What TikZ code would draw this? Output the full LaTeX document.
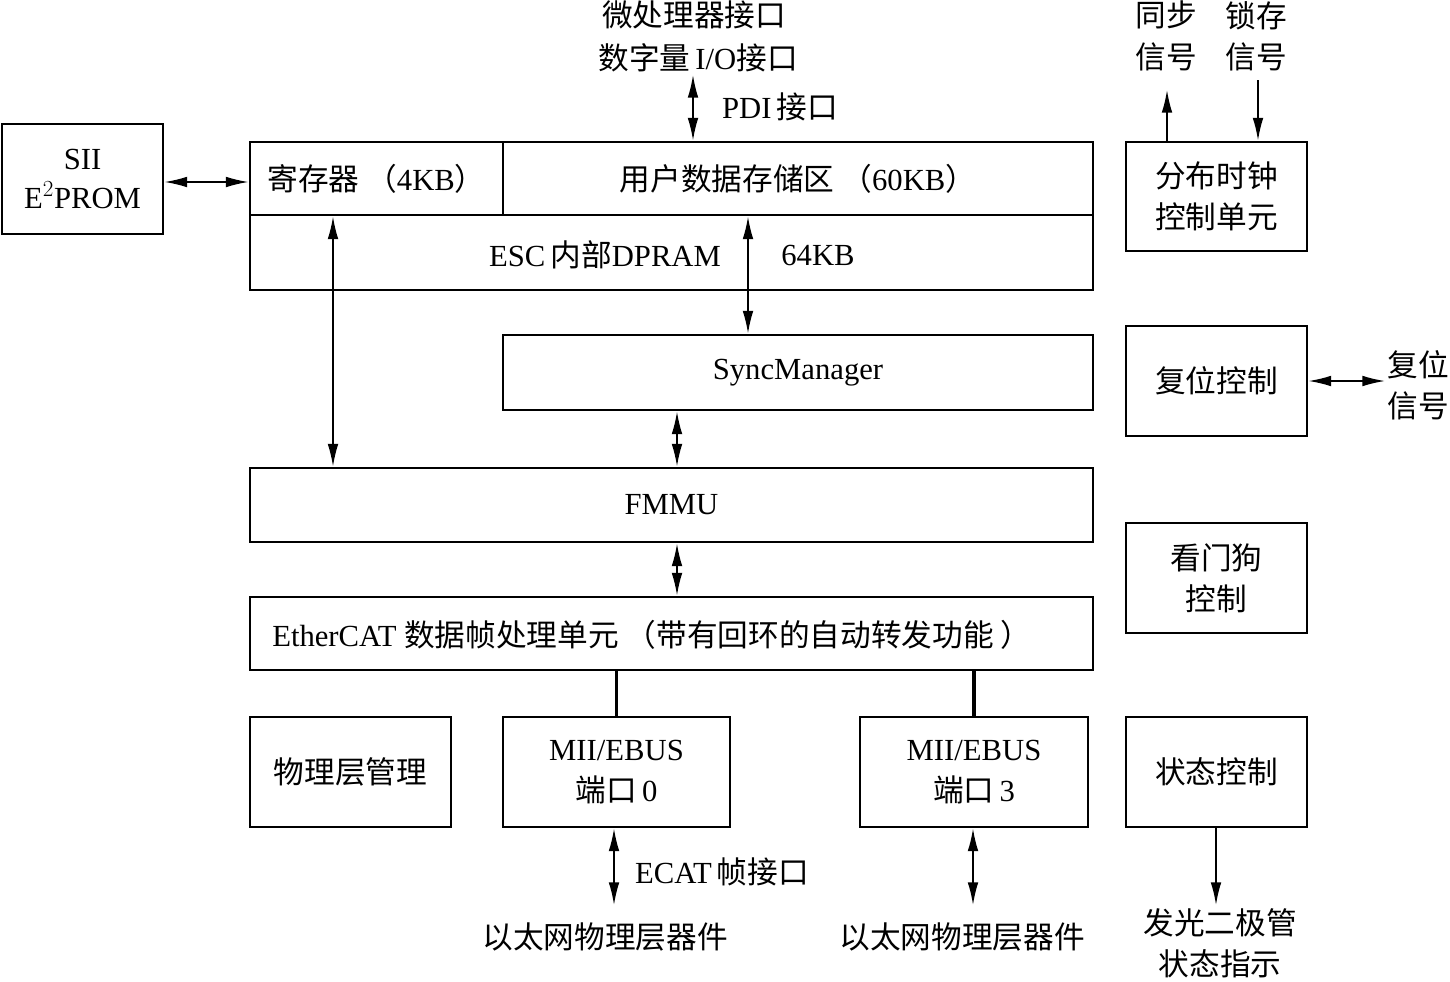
\documentclass[tikz,border=0pt]{standalone}
\usepackage{fontspec}
\setmainfont{Liberation Serif}
\newfontfamily\cjk{Noto Sans CJK SC}
\usetikzlibrary{arrows.meta}
\newcommand\zh[1]{{\cjk #1}}
\tikzset{
  box/.style={draw,line width=2.2pt,inner sep=0pt,align=center,rectangle},
  txt/.style={inner sep=0pt,align=center},
  tip/.tip={Latex[length=17pt,width=8pt]},
  dar/.style={line width=1.2pt,tip-tip},
  sar/.style={line width=1.2pt,-tip},
  thk/.style={line width=2.6pt},
}
\newcommand\bx[6]{\node[box,minimum width={(#4-#2)*0.75pt},minimum height={(#5-#3)*0.75pt}] (#1) at ({(#2+#4)/2},{(#3+#5)/2}) {#6};}
\begin{document}
\begin{tikzpicture}[x=0.75pt,y=-0.75pt,font=\fontsize{23}{31}\selectfont]
\useasboundingbox[fill=white] (0,0) rectangle (1450,982);
% left
\bx{sii}{2}{124}{163}{234}{SII\\[-2pt]E$^{2}$PROM}
% top block
\bx{dpram}{250}{142}{1093}{290}{}
\bx{reg}{250}{142}{503}{215}{\zh{寄存器 （}4KB\zh{）}}
\bx{user}{503}{142}{1093}{215}{\zh{用户数据存储区 （}60KB\zh{）}}
\node[txt] (dpt) at (605,255) {ESC\,\zh{内部}DPRAM};
\node[txt] (kb) at (818,255) {64KB};
\bx{sm}{503}{335}{1093}{410}{SyncManager}
\bx{fmmu}{250}{468}{1093}{542}{FMMU}
\bx{eth}{250}{597}{1093}{670}{}
\node[txt,anchor=west] (etht) at (272,635) {EtherCAT \zh{数据帧处理单元 （带有回环的自动转发功能 ）}};
\bx{phy}{250}{717}{451}{827}{\zh{物理层管理}}
\bx{p0}{503}{717}{730}{827}{MII/EBUS\\\zh{端口}\,0}
\bx{p3}{860}{717}{1088}{827}{MII/EBUS\\\zh{端口}\,3}
% right column
\bx{dc}{1126}{142}{1307}{251}{\zh{分布时钟}\\\zh{控制单元}}
\bx{rst}{1126}{326}{1307}{436}{\zh{复位控制}}
\bx{wd}{1126}{523}{1307}{633}{\zh{看门狗}\\\zh{控制}}
\bx{st}{1126}{717}{1307}{827}{\zh{状态控制}}
% external labels
\node[txt] (mpu) at (694,15) {\zh{微处理器接口}};
\node[txt] (dio) at (698,58) {\zh{数字量}\,I/O\zh{接口}};
\node[txt] (pdi) at (780,107) {PDI\,\zh{接口}};
\node[txt] (sync) at (1166,36) {\zh{同步}\\\zh{信号}};
\node[txt] (latch) at (1256,36) {\zh{锁存}\\\zh{信号}};
\node[txt] (rsig) at (1418,385) {\zh{复位}\\\zh{信号}};
\node[txt] (led) at (1220,943) {\zh{发光二极管}\\\zh{状态指示}};
\node[txt] (ecat) at (722,872) {ECAT\,\zh{帧接口}};
\node[txt] (eth0) at (605,937) {\zh{以太网物理层器件}};
\node[txt] (eth3) at (962,937) {\zh{以太网物理层器件}};
% helper coordinates
\coordinate (xpdi) at (693,75);
\coordinate (xreg) at (333,0);
\coordinate (xdp) at (748,0);
\coordinate (xsm) at (677,0);
\coordinate (xsy) at (1167,90);
\coordinate (xla) at (1258,80);
\coordinate (rend) at (1385,381);
\coordinate (e0) at (614,905);
\coordinate (e3) at (973,905);
\coordinate (ledt) at (1216,905);
% connectors
\draw[dar] (sii.east |- 0,182) -- (reg.west |- 0,182);
\draw[dar] (xpdi) -- (xpdi |- user.north);
\draw[dar] (reg.south -| xreg) -- (fmmu.north -| xreg);
\draw[dar] (user.south -| xdp) -- (sm.north -| xdp);
\draw[dar] (sm.south -| xsm) -- (fmmu.north -| xsm);
\draw[dar] (fmmu.south -| xsm) -- (eth.north -| xsm);
\draw[thk] (eth.south -| p0.north) -- (p0.north);
\draw[thk] (eth.south -| p3.north) -- (p3.north);
\draw[dar] (p0.south -| e0) -- (e0);
\draw[dar] (p3.south -| e3) -- (e3);
\draw[sar] (dc.north -| xsy) -- (xsy);
\draw[sar] (xla) -- (dc.north -| xla);
\draw[dar] (rst.east |- rend) -- (rend);
\draw[sar] (st.south -| ledt) -- (ledt);
\end{tikzpicture}
\end{document}
